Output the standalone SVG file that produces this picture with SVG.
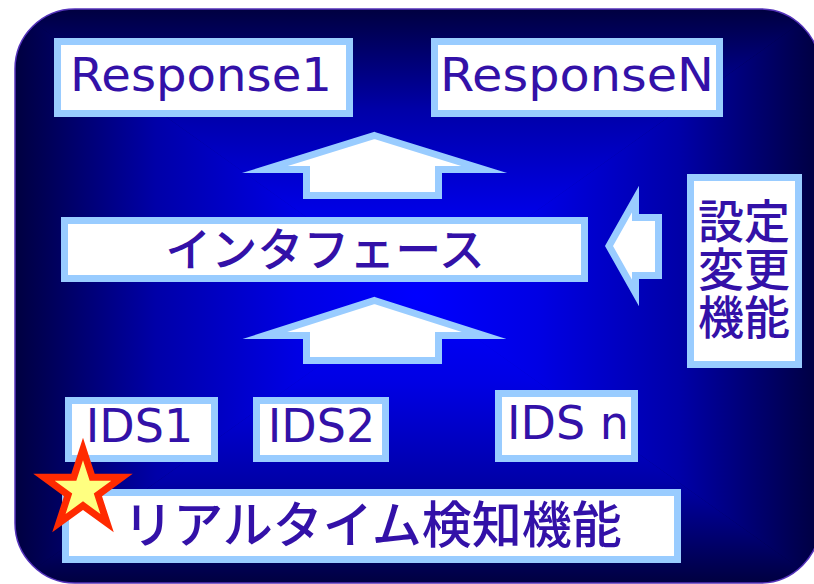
<svg xmlns="http://www.w3.org/2000/svg" width="814" height="584" viewBox="0 0 814 584">
<style>
.box{fill:#ffffff;stroke:#99ccff;stroke-width:7}
.arr{fill:#ffffff;stroke:#99ccff;stroke-width:7;stroke-miterlimit:10}
.lat{font-family:"DejaVu Sans",sans-serif;font-size:46px;fill:#3311a8}
.jp{font-family:"Noto Sans CJK JP",sans-serif;font-weight:500;fill:#3311a8}
</style>
<defs>
<clipPath id="bgclip"><rect x="15" y="9" width="805" height="574" rx="60" ry="60"/></clipPath>
<linearGradient id="gT" gradientUnits="userSpaceOnUse" x1="0" y1="9" x2="0" y2="296"><stop offset="0" stop-color="#000040"/><stop offset="0.35" stop-color="#0000a8"/><stop offset="0.7" stop-color="#0000e4"/><stop offset="1" stop-color="#0000ff"/></linearGradient>
<linearGradient id="gB" gradientUnits="userSpaceOnUse" x1="0" y1="583" x2="0" y2="296"><stop offset="0" stop-color="#000040"/><stop offset="0.35" stop-color="#0000a8"/><stop offset="0.7" stop-color="#0000e4"/><stop offset="1" stop-color="#0000ff"/></linearGradient>
<linearGradient id="gL" gradientUnits="userSpaceOnUse" x1="15" y1="0" x2="417" y2="0"><stop offset="0" stop-color="#000040"/><stop offset="0.35" stop-color="#0000a8"/><stop offset="0.7" stop-color="#0000e4"/><stop offset="1" stop-color="#0000ff"/></linearGradient>
<linearGradient id="gR" gradientUnits="userSpaceOnUse" x1="820" y1="0" x2="417" y2="0"><stop offset="0" stop-color="#000040"/><stop offset="0.35" stop-color="#0000a8"/><stop offset="0.7" stop-color="#0000e4"/><stop offset="1" stop-color="#0000ff"/></linearGradient>
<radialGradient id="gBase" gradientUnits="userSpaceOnUse" cx="417" cy="296" r="420"><stop offset="0" stop-color="#0000ff"/><stop offset="1" stop-color="#000040"/></radialGradient>
</defs>
<g id="background">
<g clip-path="url(#bgclip)">
<rect x="15" y="9" width="805" height="574" fill="url(#gBase)"/>
<polygon points="15,9 15,583 417,296" fill="url(#gL)"/>
<polygon points="820,9 820,583 417,296" fill="url(#gR)"/>
<polygon points="15,9 820,9 417,296" fill="url(#gT)"/>
<polygon points="15,583 820,583 417,296" fill="url(#gB)"/>
</g>
<rect x="15" y="9" width="805" height="574" rx="60" ry="60" fill="none" stroke="#5533bb" stroke-width="1.5"/>
</g>
<g id="connectors">
<polygon class="arr" points="374.5,135.5 484,169.5 438.5,169.5 438.5,195.5 306.5,195.5 306.5,169.5 265,169.5"/>
<polygon class="arr" points="374.5,300.5 484,335.5 438.5,335.5 438.5,360.5 306.5,360.5 306.5,335.5 265,335.5"/>
<polygon class="arr" points="609,246 635.5,199 635.5,217.5 658.5,217.5 658.5,275.5 635.5,275.5 635.5,293"/>
</g>
<g id="response1">
<rect class="box" x="57.5" y="41.5" width="292" height="72"/>
<text class="lat" x="201" y="91" text-anchor="middle" textLength="262" lengthAdjust="spacingAndGlyphs">Response1</text>
</g>
<g id="responseN">
<rect class="box" x="434.5" y="41.5" width="285" height="72"/>
<text class="lat" x="577" y="91" text-anchor="middle" textLength="274" lengthAdjust="spacingAndGlyphs">ResponseN</text>
</g>
<g id="interface">
<rect class="box" x="64.5" y="220.5" width="520" height="58"/>
<text class="jp" x="325" y="266" font-size="46" text-anchor="middle">インタフェース</text>
</g>
<g id="settings">
<rect class="box" x="690.5" y="177.5" width="108" height="187"/>
<text class="jp" font-size="46" text-anchor="middle"><tspan x="744" y="238">設定</tspan><tspan x="744" y="286">変更</tspan><tspan x="744" y="334">機能</tspan></text>
</g>
<g id="ids1">
<rect class="box" x="68.5" y="400.5" width="146" height="58"/>
<text class="lat" x="139.5" y="442" text-anchor="middle">IDS1</text>
</g>
<g id="ids2">
<rect class="box" x="256.5" y="400.5" width="129" height="58"/>
<text class="lat" x="321.5" y="442" text-anchor="middle">IDS2</text>
</g>
<g id="idsn">
<rect class="box" x="498.5" y="393.5" width="136" height="65"/>
<text class="lat" x="568" y="439" text-anchor="middle">IDS n</text>
</g>
<g id="realtime">
<rect class="box" x="65.5" y="492.5" width="612" height="67"/>
<text class="jp" x="372.5" y="543" font-size="50" text-anchor="middle">リアルタイム検知機能</text>
</g>
<g id="star">
<polygon points="83,449 92.2,477.3 122,477.3 97.9,494.9 107.1,523.2 83,505.7 58.9,523.2 68.1,494.9 44,477.3 73.8,477.3" fill="#ffff80" stroke="#ff2a00" stroke-width="7" stroke-miterlimit="10"/>
</g>
</svg>
